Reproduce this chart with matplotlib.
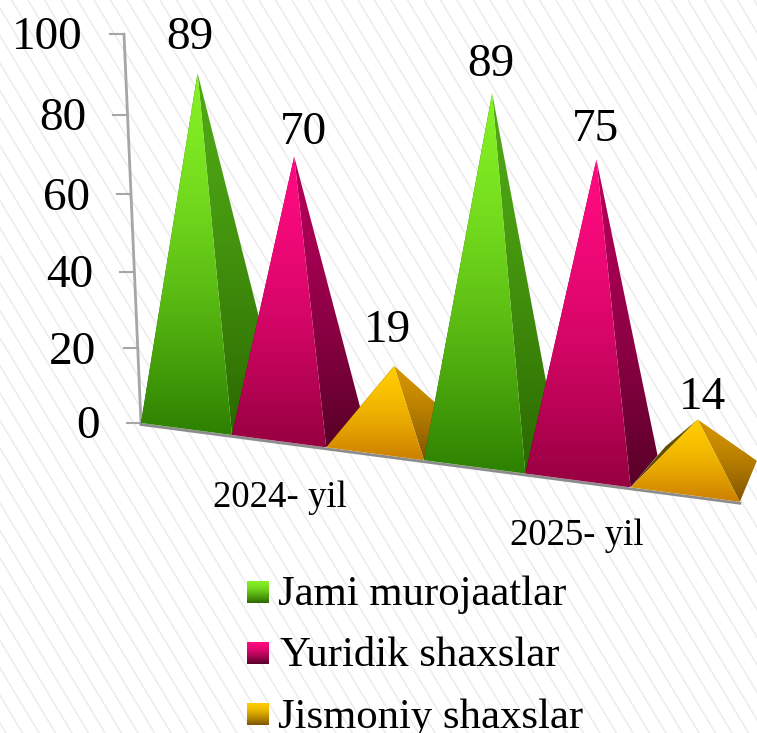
import numpy as np
import matplotlib
matplotlib.use('Agg')
import matplotlib.pyplot as plt
from matplotlib.patches import Polygon
from matplotlib.colors import to_rgb

plt.rcParams['font.family'] = ['Liberation Serif', 'DejaVu Serif']

# Data
series = ['Jami murojaatlar', 'Yuridik shaxslar', 'Jismoniy shaxslar']
years = ['2024- yil', '2025- yil']
values = [89, 70, 19, 89, 75, 14]
yticks = [0, 20, 40, 60, 80, 100]

# Colours (top, bottom) per series
front_cols = [('#84F024', '#2C8000'), ('#FF0A80', '#960040'), ('#FFCC00', '#CC7E00')]
right_cols = [('#4FA814', '#2A6600'), ('#B4005A', '#560026'), ('#D49400', '#7E5200')]
left_cols = [('#3A7A10', '#1E4A00'), ('#7A0040', '#40001C'), ('#6E5A00', '#4A3A00')]

# Layout of the fake 3D view, in pixels
peak_shift = [11.5, 15.5, 19.5, 18, 19, 13]
back_dx = [48, 36, 40, 31, 27, 17]
back_dy = [-34, -32, -32, -37, -32, -41]
left_dx = [48, 36, 40, 31, 27, 35]
label_off = [(-8, -35), (9, -24), (-7, -35), (-1, -28), (-1, -30), (5, -22)]


def wall(v):
    # height in px on the back wall, slightly foreshortened
    return 3.70 * v / (1 - 0.000483 * v)


def base(s):
    # point on the floor front edge for slot position s
    x = 141 + 89.4 * s / (1 - 0.01739 * s)
    return x, 423 + 0.1315 * (x - 141)


def gradient(ax, pts, top, bottom):
    pts = np.array(pts)
    c0, c1 = np.array(to_rgb(top)), np.array(to_rgb(bottom))
    t = (np.linspace(0, 1, 256) ** 1.5)[:, None, None]
    img = c0[None, None, :] * (1 - t) + c1[None, None, :] * t
    ext = [pts[:, 0].min(), pts[:, 0].max(), pts[:, 1].max(), pts[:, 1].min()]
    im = ax.imshow(img, extent=ext, aspect='auto', interpolation='bilinear', zorder=3)
    poly = Polygon(pts, closed=True, transform=ax.transData)
    im.set_clip_path(poly)


fig = plt.figure(figsize=(7.57, 7.33), dpi=100)
ax = fig.add_axes([0, 0, 1, 1])
ax.axis('off')

# diagonal pattern in the background
for c in np.arange(-500, 800, 16.5):
    ax.plot([c, c + 440], [0, 733], color='#ECECEC', lw=1.1, zorder=0)

# value axis
ax_x = lambda v: 141 - 17 * v / 100
ax_y = lambda v: 423 - wall(v)
ax.plot([ax_x(0), ax_x(100)], [ax_y(0), ax_y(100)], color='#A6A6A6', lw=2, zorder=2)
for v in yticks:
    ax.plot([ax_x(v) - 14, ax_x(v)], [ax_y(v), ax_y(v)], color='#A6A6A6', lw=1.5, zorder=2)
    ax.text(ax_x(v) - 41, ax_y(v) + 4, str(v), ha='right', va='center', fontsize=34, color='black', zorder=6)

# floor edge
x0, y0 = base(0)
x1, y1 = base(6)
ax.plot([x0, x1], [y0 + 1.5, y1 + 1.5], color='#8C8C8C', lw=2, zorder=2)

# pyramids, left to right so the later ones cover the earlier
for i, v in enumerate(values):
    k = i % 3
    fl = base(i)
    fr = base(i + 1)
    br = (fr[0] + back_dx[i], fr[1] + back_dy[i])
    bl = (fl[0] + left_dx[i], fl[1] + back_dy[i])
    mx, my = base(i + 0.5)
    cy = my - min(10 + 2.5 * i, 20)
    peak = (mx + peak_shift[i], cy - wall(v) * (1 + 0.01 * (i + 0.5)))
    gradient(ax, [fl, bl, peak], *left_cols[k])
    gradient(ax, [fr, br, peak], *right_cols[k])
    gradient(ax, [fl, fr, peak], *front_cols[k])
    ax.text(peak[0] + label_off[i][0], peak[1] + label_off[i][1], str(v), ha='center', va='center',
            fontsize=34, color='black', zorder=6)

# category labels
ax.text(280, 498, years[0], ha='center', va='center', fontsize=26.5, zorder=6)
ax.text(577, 536, years[1], ha='center', va='center', fontsize=26.5, zorder=6)

# legend
for k, name in enumerate(series):
    yc = 592 + 61 * k
    sq = [(247, yc - 11), (269, yc - 11), (269, yc + 11), (247, yc + 11)]
    gradient(ax, sq, front_cols[k][0], right_cols[k][1])
    ax.text(278 + (2 if k == 1 else 0), yc + 2.5 + (k == 2), name, ha='left', va='center', fontsize=30.8, zorder=6)

ax.set_xlim(0, 757)
ax.set_ylim(733, 0)
fig.savefig('out.png', dpi=100)
